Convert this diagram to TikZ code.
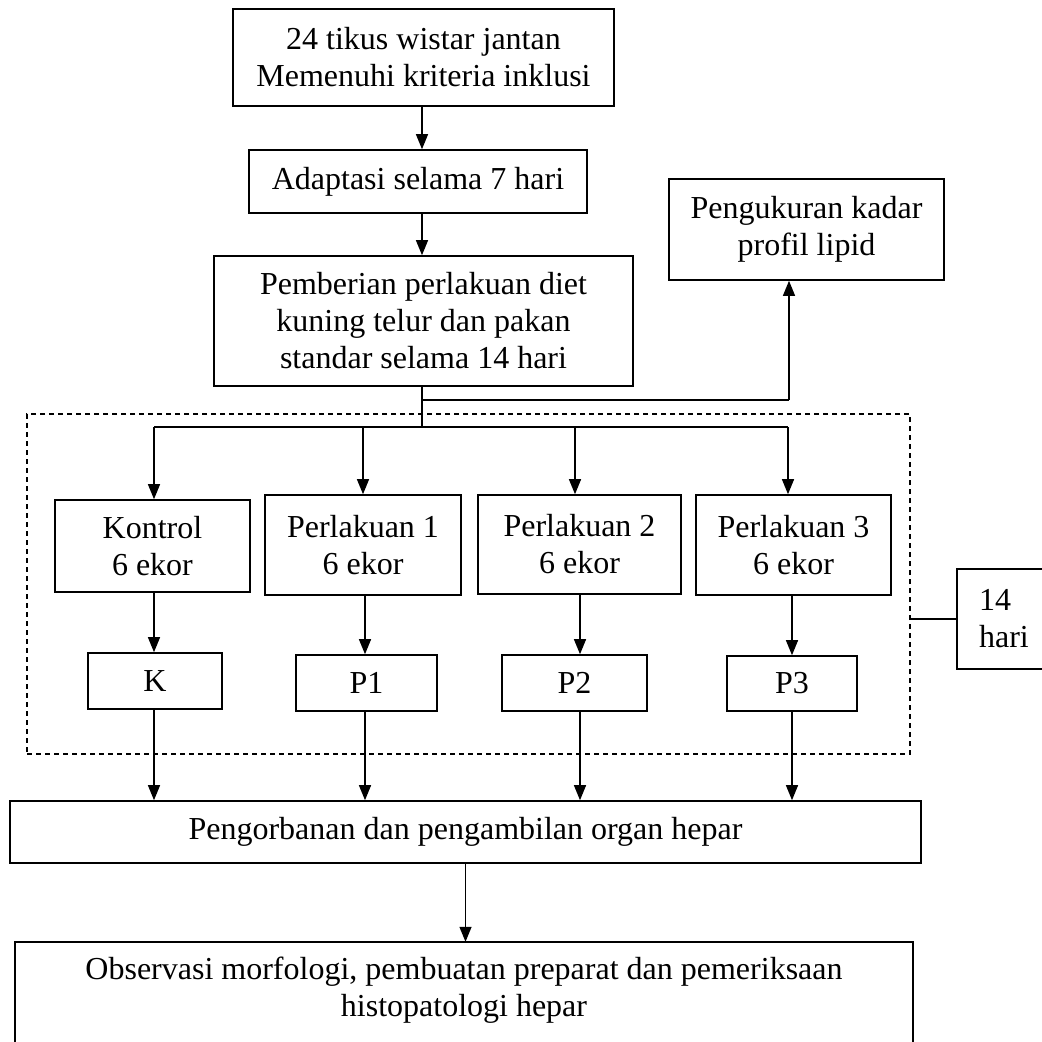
\documentclass[tikz,border=0pt]{standalone}
\usepackage{fontspec}
\setmainfont{Liberation Serif}
\usetikzlibrary{arrows.meta}
\begin{document}
\begin{tikzpicture}[x=1pt,y=-1pt,
  box/.style={draw, line width=1.6pt, inner sep=0pt, align=center,
    font=\fontsize{32}{37}\selectfont},
  txt/.style={inner sep=0pt, align=center, font=\fontsize{32}{37}\selectfont},
  conn/.style={line width=1.3pt},
  arr/.style={line width=1.3pt, -{Triangle[length=15pt,width=12pt]}},
  grpbox/.style={draw, line width=1.5pt, dash pattern=on 5pt off 4pt, inner sep=0pt}]
\useasboundingbox (0,0) rectangle (1042,1042);
\fill[white] (0,0) rectangle (1042,1042);

% top chain
\node[box, minimum width=381pt, minimum height=97pt] (b1) at (423.5,57.5)
  {24 tikus wistar jantan\\Memenuhi kriteria inklusi};
\node[box, minimum width=338pt, minimum height=63pt] (b2) at (418,181.5)
  {Adaptasi selama 7 hari};
\node[box, minimum width=419pt, minimum height=130pt] (b3) at (423.5,321)
  {Pemberian perlakuan diet\\kuning telur dan pakan\\standar selama 14 hari};
\node[box, minimum width=275pt, minimum height=101pt] (lipid) at (806.5,229.5)
  {Pengukuran kadar\\profil lipid};

\coordinate (trunk) at (422,0);
\coordinate (lj) at (422,400);
\coordinate (lx) at (789,400);
\coordinate (brL) at (154,427);
\coordinate (brM) at (422,427);
\coordinate (brR) at (788,427);

\draw[arr] (b1.south -| trunk) -- (b2.north -| trunk);
\draw[arr] (b2.south -| trunk) -- (b3.north -| trunk);
\draw[conn] (b3.south -| trunk) -- (brM);
\draw[conn] (lj) -- (lx);
\draw[arr] (lx) -- (lipid.south -| lx);

% group
\node[grpbox, minimum width=883pt, minimum height=340pt] (grp) at (468.5,584) {};

\node[box, minimum width=195pt, minimum height=92pt] (kon) at (152.5,546) {Kontrol\\6 ekor};
\node[box, minimum width=196pt, minimum height=100pt] (pa) at (363,545) {Perlakuan 1\\6 ekor};
\node[box, minimum width=203pt, minimum height=99pt] (pb) at (579.5,544.5) {Perlakuan 2\\6 ekor};
\node[box, minimum width=195pt, minimum height=100pt] (pc) at (793.5,545) {Perlakuan 3\\6 ekor};

\node[box, minimum width=134pt, minimum height=56pt] (k) at (155,681) {K};
\node[box, minimum width=141pt, minimum height=56pt] (p1) at (366.5,683) {P1};
\node[box, minimum width=145pt, minimum height=56pt] (p2) at (574.5,683) {P2};
\node[box, minimum width=130pt, minimum height=55pt] (p3) at (792,683.5) {P3};

\coordinate (cK) at (154,0);
\coordinate (c1) at (365,0);
\coordinate (c2) at (580,0);
\coordinate (c3) at (792,0);
\coordinate (d1) at (363,0);
\coordinate (d2) at (575,0);

\draw[conn] (brL) -- (brR);
\draw[arr] (brL) -- (kon.north -| brL);
\draw[arr] (brM -| d1) -- (pa.north -| d1);
\draw[arr] (brM -| d2) -- (pb.north -| d2);
\draw[arr] (brR) -- (pc.north -| brR);

\draw[arr] (kon.south -| cK) -- (k.north -| cK);
\draw[arr] (pa.south -| c1) -- (p1.north -| c1);
\draw[arr] (pb.south -| c2) -- (p2.north -| c2);
\draw[arr] (pc.south -| c3) -- (p3.north -| c3);

% 14 hari
\node[box, align=left, minimum width=94pt, minimum height=100pt] (hari) at (1004,619) {14\\hari};
\draw[conn] (grp.east |- hari) -- (hari.west);

% bottom
\node[box, minimum width=911pt, minimum height=62pt] (peng) at (465.5,832)
  {Pengorbanan dan pengambilan organ hepar};
\draw[arr] (k.south -| cK) -- (peng.north -| cK);
\draw[arr] (p1.south -| c1) -- (peng.north -| c1);
\draw[arr] (p2.south -| c2) -- (peng.north -| c2);
\draw[arr] (p3.south -| c3) -- (peng.north -| c3);

\node[txt, minimum width=898pt, minimum height=97pt] (obs) at (464,990.5)
  {Observasi morfologi, pembuatan preparat dan pemeriksaan\\histopatologi hepar};
\draw[line width=1.6pt] ([yshift=-30pt]obs.south west) -- (obs.north west) -- (obs.north east) -- ([yshift=-30pt]obs.south east);
\draw[arr] (peng) -- (obs.north -| peng);
\end{tikzpicture}
\end{document}
